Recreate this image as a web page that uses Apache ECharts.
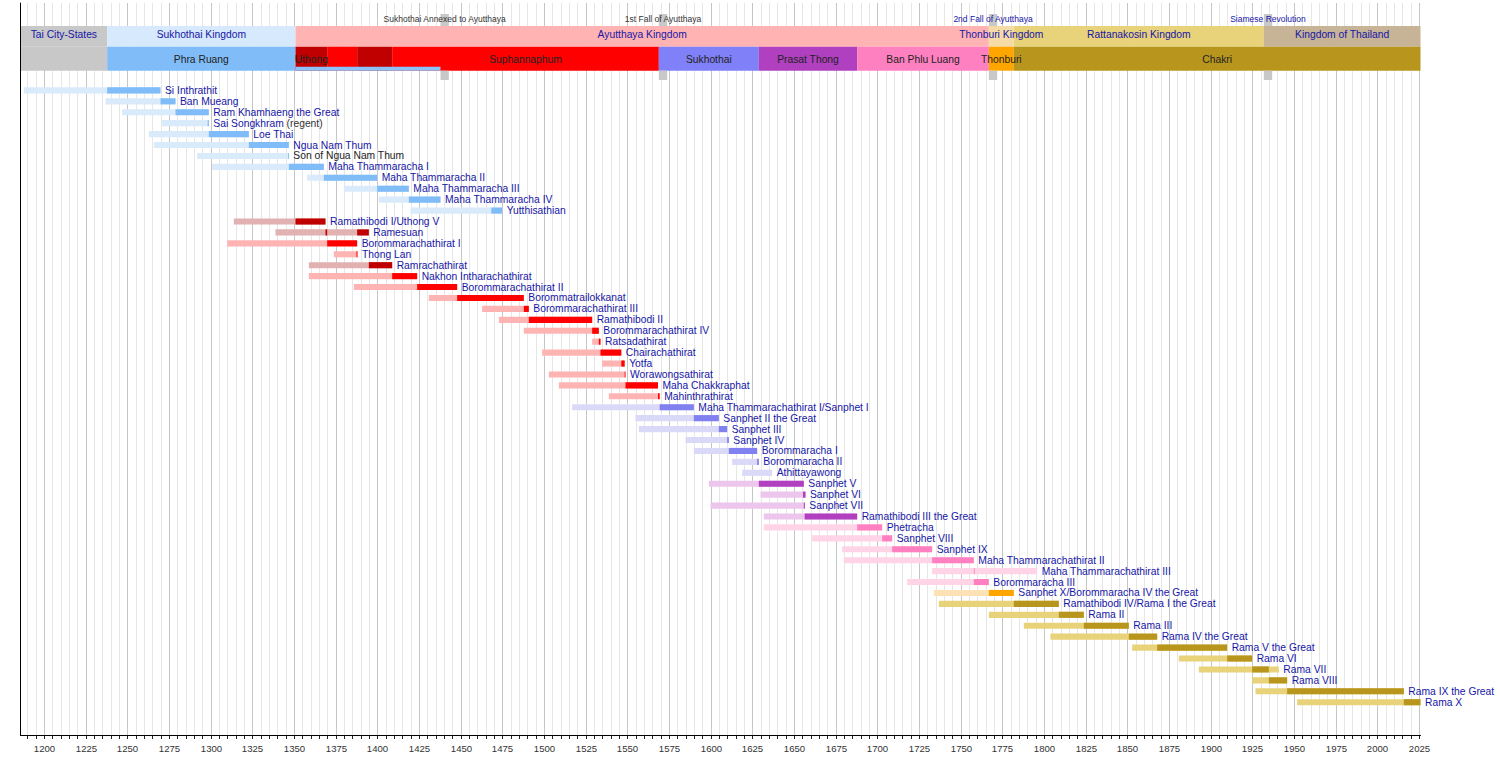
<!DOCTYPE html>
<html>
<head>
<meta charset="utf-8">
<title>Monarchs of Thailand</title>
<script src="https://cdn.jsdelivr.net/npm/echarts@6/dist/echarts.min.js"></script>
<style>
  html, body { margin: 0; padding: 0; background: #fff; }
  #chart { width: 1500px; height: 765px; }
</style>
</head>
<body>
<div id="chart"></div>
<script>
// time axis
const yearMin = 1186;
const yearMax = 2026;
const majorYears = [1200, 1225, 1250, 1275, 1300, 1325, 1350, 1375, 1400, 1425, 1450, 1475,
  1500, 1525, 1550, 1575, 1600, 1625, 1650, 1675, 1700, 1725, 1750, 1775, 1800, 1825,
  1850, 1875, 1900, 1925, 1950, 1975, 2000, 2025];

// top band: kingdoms
const kingdomNames = ['Tai City-States', 'Sukhothai Kingdom', 'Ayutthaya Kingdom',
  'Thonburi Kingdom', 'Rattanakosin Kingdom', 'Kingdom of Thailand'];
const kingdomStart = [1186, 1238, 1351, 1767, 1782, 1932];
const kingdomEnd = [1238, 1351, 1767, 1782, 1932, 2026];

// second band: dynasties
const dynastyNames = ['', 'Phra Ruang', 'Uthong', '', '', 'Suphannaphum', 'Sukhothai',
  'Prasat Thong', 'Ban Phlu Luang', 'Thonburi', 'Chakri'];
const dynastyStart = [1186, 1238, 1351, 1370, 1388, 1409, 1569, 1629, 1688, 1767, 1782];
const dynastyEnd = [1238, 1351, 1370, 1388, 1409, 1569, 1629, 1688, 1767, 1782, 2026];
const vassalSpan = [1351, 1438]; // Phra Ruang under Ayutthaya

// events
const eventNames = ['Sukhothai Annexed to Ayutthaya', '1st Fall of Ayutthaya',
  '2nd Fall of Ayutthaya', 'Siamese Revolution'];
const eventYears = [1438, 1569, 1767, 1932];

// monarchs
const monarchs = ['Si Inthrathit', 'Ban Mueang', 'Ram Khamhaeng the Great', 'Sai Songkhram (regent)',
  'Loe Thai', 'Ngua Nam Thum', 'Son of Ngua Nam Thum', 'Maha Thammaracha I', 'Maha Thammaracha II',
  'Maha Thammaracha III', 'Maha Thammaracha IV', 'Yutthisathian',
  'Ramathibodi I/Uthong V', 'Ramesuan', 'Borommarachathirat I', 'Thong Lan', 'Ramrachathirat',
  'Nakhon Intharachathirat', 'Borommarachathirat II', 'Borommatrailokkanat', 'Borommarachathirat III',
  'Ramathibodi II', 'Borommarachathirat IV', 'Ratsadathirat', 'Chairachathirat', 'Yotfa',
  'Worawongsathirat', 'Maha Chakkraphat', 'Mahinthrathirat',
  'Maha Thammarachathirat I/Sanphet I', 'Sanphet II the Great', 'Sanphet III', 'Sanphet IV',
  'Borommaracha I', 'Borommaracha II', 'Athittayawong',
  'Sanphet V', 'Sanphet VI', 'Sanphet VII', 'Ramathibodi III the Great',
  'Phetracha', 'Sanphet VIII', 'Sanphet IX', 'Maha Thammarachathirat II', 'Maha Thammarachathirat III',
  'Borommaracha III', 'Sanphet X/Borommaracha IV the Great',
  'Ramathibodi IV/Rama I the Great', 'Rama II', 'Rama III', 'Rama IV the Great', 'Rama V the Great',
  'Rama VI', 'Rama VII', 'Rama VIII', 'Rama IX the Great', 'Rama X'];
const house = ['P', 'P', 'P', 'P', 'P', 'P', 'P', 'P', 'P', 'P', 'P', 'P',
  'U', 'U', 'S', 'S', 'U', 'S', 'S', 'S', 'S', 'S', 'S', 'S', 'S', 'S', 'S', 'S', 'S',
  'K', 'K', 'K', 'K', 'K', 'K', 'K',
  'T', 'T', 'T', 'T',
  'B', 'B', 'B', 'B', 'B', 'B',
  'N',
  'C', 'C', 'C', 'C', 'C', 'C', 'C', 'C', 'C', 'C'];
const born = [1188, 1237, 1247, 1271, 1263, 1266, 1292, 1301, 1358, 1380, 1401, 1420,
  1314, 1339, 1310, 1374, 1359, 1359, 1386, 1431, 1463, 1473, 1488, 1529, 1499, 1535, 1503, 1509, 1539,
  1517, 1555, 1557, 1585, 1590, 1613, 1619,
  1599, 1630, 1600, 1632,
  1632, 1661, 1679, 1680, 1733, 1718,
  1734,
  1737, 1767, 1788, 1804, 1853, 1881, 1893, 1925, 1927, 1952];
const reignFrom = [1238, 1270, 1279, 1298.3, 1299, 1323, 1346.5, 1347, 1368, 1400, 1419, 1468.5,
  1351, 1388, 1370, 1387.6, 1395, 1409, 1424, 1448, 1488, 1491, 1529, 1533, 1534, 1546.5, 1548.5, 1549, 1568.5,
  1569.5, 1590, 1605, 1610, 1611, 1628, 1629,
  1629, 1655.5, 1656, 1656.5,
  1688, 1703, 1709, 1733, 1758, 1758,
  1767,
  1782, 1809, 1824, 1851, 1868, 1910, 1925, 1935, 1946, 2016];
const reignTo = [1270, 1279, 1299, 1299, 1323, 1347, 1347, 1368, 1400, 1419, 1438, 1475,
  1369, 1395, 1388, 1388.2, 1409, 1424, 1448, 1488, 1491, 1529, 1533, 1534, 1546.5, 1548.5, 1549, 1568.5, 1569.5,
  1590, 1605, 1610, 1611, 1628, 1629, 1629,
  1656, 1657, 1656.6, 1688,
  1703, 1709, 1733, 1758, 1758.5, 1767,
  1782,
  1809, 1824, 1851, 1868, 1910, 1925, 1935, 1946, 2016, 2026];
const died = [1270, 1279, 1299, 1299, 1323, 1347, 1347, 1368, 1400, 1419, 1438, 1475,
  1369, 1395, 1388, 1388.2, 1409, 1424, 1448, 1488, 1491, 1529, 1533, 1534, 1546.5, 1548.5, 1549, 1568.5, 1569.5,
  1590, 1605, 1610, 1611, 1628, 1629, 1637,
  1656, 1657, 1656.6, 1688,
  1703, 1709, 1733, 1758, 1796, 1767,
  1782,
  1809, 1824, 1851, 1868, 1910, 1925, 1941, 1946, 2016, 2026];
// Ramesuan reigned twice
const earlyReigns = [[13, 1369, 1370]];

// ---- styles ----
const FONT = "'Liberation Sans', Arial, Helvetica, sans-serif";
const BLUE = '#1616a6';
const kingdomColors = ['#c8c8c8', '#d6e9fd', '#ffb3b3', '#f5dca6', '#e8d27a', '#c7b396'];
const dynastyColors = ['#c8c8c8', '#80bdf8', '#c00000', '#ff0000', '#c00000', '#ff0000',
  '#8080f8', '#b040c0', '#ff80c0', '#ffa500', '#b8961e'];
const eventColors = ['#333', '#333', BLUE, BLUE];
const palette = {
  P: { light: '#d9eafb', dark: '#80bdf8' },
  U: { light: '#e2b1b1', dark: '#c00000' },
  S: { light: '#ffb4b4', dark: '#ff0000' },
  K: { light: '#dadaf8', dark: '#8080f0' },
  T: { light: '#ecc6ec', dark: '#b040c0' },
  B: { light: '#ffd4e6', dark: '#ff80c0' },
  N: { light: '#fde2b6', dark: '#ffa500' },
  C: { light: '#e8d27a', dark: '#b8961e' }
};

// row units: monarch i sits at y = i
const Y_MIN = -8, Y_MAX = 59;
const KING_BAND = [-5.895, -4.0];
const DYN_BAND = [-4.0, -1.803];
const VASSAL_BAND = [-2.17, -1.803];
const EVENT_TOP = [-6.99, -5.895];
const EVENT_BOT = [-1.803, -0.95];
const BAR_HALF = 0.28;

const gridYears = [];
for (let y = 1190; y <= 2025; y += 5) gridYears.push(y);

function span(api, x0, x1, u0, u1, fill) {
  const a = api.coord([x0, u0]);
  const b = api.coord([x1, u1]);
  return {
    type: 'rect',
    shape: { x: a[0], y: a[1], width: b[0] - a[0], height: b[1] - a[1] },
    style: { fill: fill }
  };
}

// texts sit above every rect of their series (z2)
function txt(x, y, text, size, fill, align) {
  return {
    type: 'text', x: x, y: y, z2: 100,
    style: {
      text: text, fill: fill, fontSize: size, fontFamily: FONT,
      align: align || 'center', verticalAlign: 'middle'
    }
  };
}

function renderGrid(params, api) {
  const yr = api.value(0);
  const top = api.coord([yr, Y_MIN]);
  const bot = api.coord([yr, Y_MAX]);
  const x = Math.round(top[0]) + 0.5;
  const major = majorYears.indexOf(yr) >= 0;
  const children = [
    { type: 'line', shape: { x1: x, y1: top[1], x2: x, y2: bot[1] },
      style: { stroke: major ? '#c6c6c6' : '#e6e6e6', lineWidth: 1 } },
    { type: 'line', shape: { x1: x, y1: bot[1], x2: x, y2: bot[1] + 4 },
      style: { stroke: '#222', lineWidth: 1 } }
  ];
  if (major) children.push(txt(x, bot[1] + 13, String(yr), 9.6, '#333'));
  return { type: 'group', children: children };
}

function renderKingdom(params, api) {
  const i = api.value(0);
  const r = span(api, kingdomStart[i], kingdomEnd[i], KING_BAND[0], KING_BAND[1], kingdomColors[i]);
  const c = api.coord([(kingdomStart[i] + kingdomEnd[i]) / 2, -5.1]);
  return { type: 'group', children: [r, txt(c[0], c[1], kingdomNames[i], 10.3, BLUE)] };
}

function renderDynasty(params, api) {
  const i = api.value(0);
  const children = [span(api, dynastyStart[i], dynastyEnd[i], DYN_BAND[0], DYN_BAND[1], dynastyColors[i])];
  if (dynastyNames[i]) {
    let mid = (dynastyStart[i] + dynastyEnd[i]) / 2;
    if (i === 1) mid = (dynastyStart[i] + kingdomEnd[1]) / 2;
    const c = api.coord([mid, -2.87]);
    children.push(txt(c[0], c[1], dynastyNames[i], 10.3, '#222'));
  }
  return { type: 'group', children: children };
}

function renderVassal(params, api) {
  return span(api, vassalSpan[0], vassalSpan[1], VASSAL_BAND[0], VASSAL_BAND[1], '#8cc2f8');
}

function renderEvent(params, api) {
  const i = api.value(0);
  const yr = eventYears[i];
  const c = api.coord([yr + 2.5, -6.53]);
  return {
    type: 'group',
    children: [
      span(api, yr, yr + 5, EVENT_TOP[0], EVENT_TOP[1], '#c8c8c8'),
      span(api, yr, yr + 5, EVENT_BOT[0], EVENT_BOT[1], '#c8c8c8'),
      txt(c[0], c[1], eventNames[i], 8.5, eventColors[i])
    ]
  };
}

function renderMonarch(params, api) {
  const i = api.value(0);
  const pal = palette[house[i]];
  const children = [span(api, born[i], died[i], i - BAR_HALF, i + BAR_HALF, pal.light)];
  earlyReigns.forEach(function (r) {
    if (r[0] === i) children.push(span(api, r[1], r[2], i - BAR_HALF, i + BAR_HALF, pal.dark));
  });
  if (reignTo[i] > reignFrom[i]) {
    children.push(span(api, reignFrom[i], reignTo[i], i - BAR_HALF, i + BAR_HALF, pal.dark));
  }
  const p = api.coord([Math.max(died[i], reignTo[i]), i]);
  const name = monarchs[i];
  let label;
  if (name.indexOf('(regent)') > 0) {
    label = {
      type: 'text', x: p[0] + 4.5, y: p[1], z2: 100,
      style: {
        text: '{a|' + name.replace(' (regent)', '') + '} {b|(regent)}',
        fontSize: 10.3, fontFamily: FONT, align: 'left', verticalAlign: 'middle',
        rich: {
          a: { fill: BLUE, color: BLUE, fontSize: 10.3, fontFamily: FONT },
          b: { fill: '#333', color: '#333', fontSize: 10.3, fontFamily: FONT }
        }
      }
    };
  } else {
    const muted = name.indexOf('Son of') === 0;
    label = txt(p[0] + 4.5, p[1], name, 10.3, muted ? '#222' : BLUE, 'left');
  }
  children.push(label);
  return { type: 'group', children: children };
}

const chart = echarts.init(document.getElementById('chart'), null, { renderer: 'svg' });
chart.setOption({
  animation: false,
  backgroundColor: '#fff',
  grid: { left: 20.5, right: 79.5, top: 3, bottom: 30 },
  xAxis: {
    type: 'value', min: yearMin, max: yearMax, z: 10,
    axisLine: { show: true, onZero: false, lineStyle: { color: '#000', width: 1 } },
    axisTick: { show: false }, axisLabel: { show: false }, splitLine: { show: false }
  },
  yAxis: {
    type: 'value', min: Y_MIN, max: Y_MAX, inverse: true, z: 10,
    axisLine: { show: true, onZero: false, lineStyle: { color: '#000', width: 1 } },
    axisTick: { show: false }, axisLabel: { show: false }, splitLine: { show: false }
  },
  series: [
    { type: 'custom', name: 'grid', z: 1, silent: true, clip: false,
      renderItem: renderGrid, data: gridYears.map(function (y) { return [y, 0]; }) },
    { type: 'custom', name: 'kingdoms', z: 2, silent: true, clip: false,
      renderItem: renderKingdom, data: kingdomNames.map(function (n, i) { return [i, 0]; }) },
    { type: 'custom', name: 'dynasties', z: 3, silent: true, clip: false,
      renderItem: renderDynasty, data: dynastyNames.map(function (n, i) { return [i, 0]; }) },
    { type: 'custom', name: 'vassal', z: 4, silent: true, clip: false,
      renderItem: renderVassal, data: [[0, 0]] },
    { type: 'custom', name: 'events', z: 5, silent: true, clip: false,
      renderItem: renderEvent, data: eventNames.map(function (n, i) { return [i, 0]; }) },
    { type: 'custom', name: 'monarchs', z: 6, silent: true, clip: false,
      renderItem: renderMonarch, data: monarchs.map(function (n, i) { return [i, i]; }) }
  ]
});
</script>
</body>
</html>
